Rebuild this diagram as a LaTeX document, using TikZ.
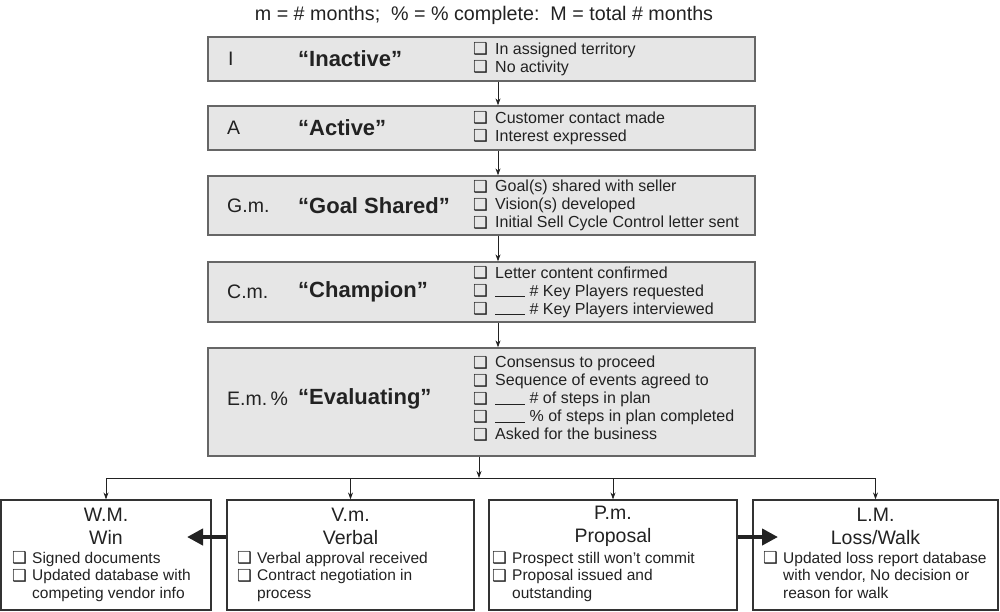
\documentclass[tikz,border=0pt]{standalone}
\usepackage{fontspec}
\setmainfont{Liberation Sans}
\newfontfamily\dvfont{DejaVu Sans}
\usetikzlibrary{arrows.meta}
\definecolor{boxfill}{HTML}{E6E6E6}
\definecolor{boxborder}{HTML}{666666}
\definecolor{outborder}{HTML}{333333}
\definecolor{ink}{HTML}{222222}
\newcommand\chkbx[1][22pt]{\makebox[#1][l]{\smash{\raisebox{-0.5pt}{\dvfont\fontsize{16.5}{16.5}\selectfont ❑}}}}
\newcommand\blankln{\rule[-1pt]{30pt}{0.8pt}\ }
\begin{document}
\begin{tikzpicture}[x=1pt,y=-1pt,
  stage/.style={draw=boxborder, fill=boxfill, line width=1.3pt, minimum width=547pt, inner sep=0pt},
  outcome/.style={draw=outborder, fill=white, line width=1.2pt, inner sep=0pt},
  lbl/.style={anchor=west, text=ink, font=\fontsize{19.5}{22}\selectfont, inner sep=0pt},
  stname/.style={anchor=west, text=ink, font=\bfseries\fontsize{22}{24}\selectfont, inner sep=0pt},
  items/.style={anchor=west, align=left, text=ink, font=\fontsize{16}{18}\selectfont, inner sep=0pt},
  otitle/.style={align=center, text=ink, font=\fontsize{19.5}{23}\selectfont, inner sep=0pt},
  oitems/.style={anchor=north west, align=left, text=ink, font=\fontsize{15.5}{17.5}\selectfont, inner sep=0pt},
  flow/.style={-{Stealth[length=7pt,width=5pt]}, line width=0.8pt, draw=ink},
  bigarrow/.style={-{Triangle[length=16pt,width=16pt]}, line width=4pt, draw=ink}]
\useasboundingbox (0,0) rectangle (1000,611);

\node[text=ink, font=\fontsize{19.7}{22}\selectfont, inner sep=0pt] (hdr) at (484,15)
  {m = \# months;\ \ \% = \% complete:\ \ M = total \# months};

% stage boxes
\node[stage, minimum height=44pt] (I) at (481.5,59) {};
\node[stage, minimum height=44pt] (A) at (481.5,128) {};
\node[stage, minimum height=59pt] (G) at (481.5,205.5) {};
\node[stage, minimum height=60pt] (C) at (481.5,292) {};
\node[stage, minimum height=108pt] (E) at (481.5,402) {};

\node[lbl] (Il) at (228,59) {I};
\node[stname] (In) at (298,59) {“Inactive”};
\node[items] (Ii) at (473,59) {\chkbx In assigned territory\\ \chkbx No activity};

\node[lbl] (Al) at (227,128) {A};
\node[stname] (An) at (298,128) {“Active”};
\node[items] (Ai) at (473,128) {\chkbx Customer contact made\\ \chkbx Interest expressed};

\node[lbl] (Gl) at (227,205.5) {G.m.};
\node[stname] (Gn) at (298,205.5) {“Goal Shared”};
\node[items] (Gi) at (473,205.5) {\chkbx Goal(s) shared with seller\\ \chkbx Vision(s) developed\\ \chkbx Initial Sell Cycle Control letter sent};

\node[lbl] (Cl) at (227,292) {C.m.};
\node[stname] (Cn) at (298,292) {“Champion”};
\node[items] (Ci) at (473,292) {\chkbx Letter content confirmed\\ \chkbx \blankln\# Key Players requested\\ \chkbx \blankln\# Key Players interviewed};

\node[lbl] (El) at (227,399) {E.m.\,\%};
\node[stname] (En) at (298,399) {“Evaluating”};
\node[items] (Ei) at (473,398) {\chkbx Consensus to proceed\\ \chkbx Sequence of events agreed to\\ \chkbx \blankln\# of steps in plan\\ \chkbx \blankln\% of steps in plan completed\\ \chkbx Asked for the business};

% outcome boxes
\node[outcome, minimum width=210pt, minimum height=110pt] (W) at (106,555) {};
\node[outcome, minimum width=247pt, minimum height=110pt] (V) at (350.5,555) {};
\node[outcome, minimum width=248pt, minimum height=110pt] (P) at (613,555) {};
\node[outcome, minimum width=245pt, minimum height=110pt] (L) at (875.5,555) {};

\node[otitle] (Wt) at (106,526.5) {W.M.\\ Win};
\node[oitems] (Wi) at (12,552) {\chkbx[20pt]Signed documents\\ \chkbx[20pt]Updated database with\\ \hspace*{20pt}competing vendor info};

\node[otitle] (Vt) at (350.5,526.5) {V.m.\\ Verbal};
\node[oitems] (Vi) at (237,552) {\chkbx[20pt]Verbal approval received\\ \chkbx[20pt]Contract negotiation in\\ \hspace*{20pt}process};

\node[otitle] (Pt) at (613,526.5) {P.m.\\ Proposal};
\node[oitems] (Pi) at (492,552) {\chkbx[20pt]Prospect still won’t commit\\ \chkbx[20pt]Proposal issued and\\ \hspace*{20pt}outstanding};

\node[otitle] (Lt) at (875.5,526.5) {L.M.\\ Loss/Walk};
\node[oitems] (Li) at (763,552) {\chkbx[20pt]Updated loss report database\\ \hspace*{20pt}with vendor, No decision or\\ \hspace*{20pt}reason for walk};

% connectors
\coordinate (axis) at (498,0);
\draw[flow] (I.south -| axis) -- (A.north -| axis);
\draw[flow] (A.south -| axis) -- (G.north -| axis);
\draw[flow] (G.south -| axis) -- (C.north -| axis);
\draw[flow] (C.south -| axis) -- (E.north -| axis);
\coordinate (hub) at (479,478);
\draw[flow] (E.south -| hub) -- (hub);
\draw[line width=0.8pt, draw=ink] (W.north |- hub) -- (L.north |- hub);
\foreach \n in {W,V,P,L} \draw[flow] (\n.north |- hub) -- (\n.north);

\coordinate (wtip) at (187,537);
\coordinate (ltip) at (778,537);
\draw[bigarrow] (V.west |- wtip) -- (wtip);
\draw[bigarrow] (P.east |- ltip) -- (ltip);
\end{tikzpicture}
\end{document}
